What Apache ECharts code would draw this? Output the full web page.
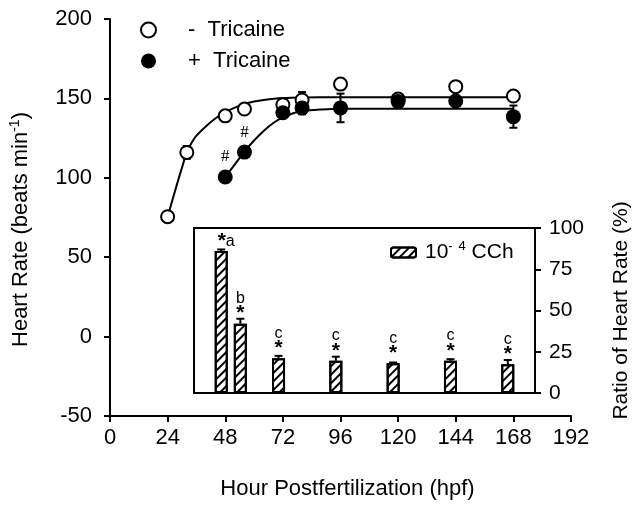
<!DOCTYPE html>
<html>
<head>
<meta charset="utf-8">
<script src="https://cdn.jsdelivr.net/npm/echarts@6/dist/echarts.min.js"></script>
<style>html,body{margin:0;padding:0;background:#fff}#c{width:640px;height:510px}</style>
</head>
<body>
<div id="c"></div>
<script>
// ---- data ----
const xTicks = [0, 24, 48, 72, 96, 120, 144, 168, 192];
const yTicks = [-50, 0, 50, 100, 150, 200];
const ratioTicks = [0, 25, 50, 75, 100];

const minusHours = [24, 32, 48, 56, 72, 80, 96, 120, 144, 168];
const minusTricaine = [75.5, 116, 139, 143.3, 146, 149, 159, 149.6, 157.4, 151.5];
const minusTricaineErr = [0, 4, 0, 0, 0, 5, 0, 2, 3, 0];

const plusHours = [48, 56, 72, 80, 96, 120, 144, 168];
const plusTricaine = [100.5, 116.2, 141, 144, 144, 148, 148.4, 138.5];
const plusTricaineErr = [0, 0, 2, 4, 9, 2, 2, 7];
const plusMarks = ['#', '#', '', '', '', '', '', ''];

const fitMinusHours = [24, 26, 28, 30, 32, 34, 36, 40, 44, 48, 52, 56, 60, 64, 72, 80, 96, 120, 144, 168];
const fitMinus = [75.5, 86, 96.5, 106.5, 116, 122, 126.5, 132.5, 137.5, 141.3, 144.2, 146.5, 148, 149, 150.2, 150.6, 150.7, 150.7, 150.7, 150.7];

const fitPlusHours = [48, 52, 56, 60, 64, 68, 72, 76, 80, 88, 96, 120, 144, 168];
const fitPlus = [100.5, 108.5, 116.5, 123.5, 129.5, 134.5, 138, 140.5, 142, 143, 143.5, 143.5, 143.5, 143.5];

const barHours = [48, 56, 72, 96, 120, 144, 168];
const cchRatio = [86, 42, 21, 19.5, 18, 19.5, 17.5];
const cchErr = [1, 3, 1.5, 2.5, 0.5, 1, 2.5];
const cchLetters = ['a', 'b', 'c', 'c', 'c', 'c', 'c'];

// ---- chart ----
const FONT = 'Liberation Sans, Arial, sans-serif';
const chart = echarts.init(document.getElementById('c'), null, {renderer: 'canvas'});

function errRender(upOnly) {
  return function (params, api) {
    const x = api.value(0), y = api.value(1), e = api.value(2);
    if (!e) return null;
    const top = api.coord([x, y + e]);
    const bot = upOnly ? api.coord([x, y]) : api.coord([x, y - e]);
    const cap = 4;
    const st = {stroke: '#000', lineWidth: 2};
    const ch = [
      {type: 'line', shape: {x1: top[0], y1: top[1], x2: bot[0], y2: bot[1]}, style: st},
      {type: 'line', shape: {x1: top[0] - cap, y1: top[1], x2: top[0] + cap, y2: top[1]}, style: st}
    ];
    if (!upOnly) ch.push({type: 'line', shape: {x1: bot[0] - cap, y1: bot[1], x2: bot[0] + cap, y2: bot[1]}, style: st});
    return {type: 'group', children: ch};
  };
}

const hatch = {
  symbol: 'rect', symbolSize: 1, color: '#000',
  dashArrayX: [1, 0], dashArrayY: [2, 4], rotation: -Math.PI / 4
};

const option = {
  animation: false,
  backgroundColor: '#fff',
  textStyle: {fontFamily: FONT, color: '#000'},
  legend: [
    {
      data: ['-  Tricaine', '+  Tricaine'],
      orient: 'vertical', left: 140, top: 19, padding: 0, z: 10,
      itemWidth: 15, itemHeight: 15, itemGap: 9,
      textStyle: {fontSize: 22, color: '#000', fontFamily: FONT, padding: [0, 0, 0, 27]}
    },
    {
      data: ['cch'],
      left: 390, top: 240, padding: 0, z: 10, itemWidth: 25, itemHeight: 10,
      formatter: function () { return '10{sup|-} {sup|4} CCh'; },
      textStyle: {fontSize: 21, color: '#000', fontFamily: FONT, padding: [0, 0, 0, 4],
        rich: {sup: {fontSize: 13, fontFamily: FONT, padding: [0, 0, 12, 0]}}}
    }
  ],
  grid: [
    {left: 105, right: 69, top: 19, bottom: 94},
    {left: 194, right: 99, top: 228, bottom: 117, show: true, borderColor: '#000', borderWidth: 2, backgroundColor: '#fff', z: 3}
  ],
  xAxis: [
    {
      type: 'value', gridIndex: 0,
      min: xTicks[0], max: xTicks[xTicks.length - 1], interval: xTicks[1] - xTicks[0],
      name: 'Hour Postfertilization (hpf)', nameLocation: 'middle', nameGap: 62,
      nameTextStyle: {fontSize: 22, color: '#000', fontFamily: FONT, padding: [0, 0, 0, 14]},
      axisLine: {onZero: false, lineStyle: {color: '#000', width: 2}},
      axisTick: {inside: false, length: 6, lineStyle: {color: '#000', width: 2}},
      axisLabel: {fontSize: 22, color: '#000', margin: 11, fontFamily: FONT},
      splitLine: {show: false}
    },
    {
      type: 'value', gridIndex: 1, min: 36.6, max: 179.4,
      show: true,
      axisLine: {show: true, onZero: false, lineStyle: {color: '#000', width: 2}},
      axisTick: {show: false}, axisLabel: {show: false}, splitLine: {show: false}
    }
  ],
  yAxis: [
    {
      type: 'value', gridIndex: 0,
      min: yTicks[0], max: yTicks[yTicks.length - 1], interval: yTicks[1] - yTicks[0],
      name: 'Heart Rate (beats min{sup|-1})', nameLocation: 'middle', nameGap: 76,
      nameTextStyle: {fontSize: 22, color: '#000', fontFamily: FONT, padding: [0, 24, 0, 0],
        rich: {sup: {fontSize: 14, fontFamily: FONT, padding: [0, 0, 12, 0]}}},
      axisLine: {show: true, onZero: false, lineStyle: {color: '#000', width: 2}},
      axisTick: {inside: false, length: 6, lineStyle: {color: '#000', width: 2}},
      axisLabel: {fontSize: 22, color: '#000', margin: 18, fontFamily: FONT},
      splitLine: {show: false}
    },
    {
      type: 'value', gridIndex: 1, position: 'right',
      min: ratioTicks[0], max: ratioTicks[ratioTicks.length - 1], interval: ratioTicks[1] - ratioTicks[0],
      name: 'Ratio of Heart Rate (%)', nameLocation: 'middle', nameGap: 76,
      nameTextStyle: {fontSize: 21, color: '#000', fontFamily: FONT},
      axisLine: {show: true, onZero: false, lineStyle: {color: '#000', width: 2}},
      axisTick: {inside: false, length: 6, lineStyle: {color: '#000', width: 2}},
      axisLabel: {fontSize: 21, color: '#000', margin: 14, fontFamily: FONT},
      splitLine: {show: false}
    }
  ],
  series: [
    {
      name: 'fitMinus', type: 'line', xAxisIndex: 0, yAxisIndex: 0, smooth: 0.3,
      data: fitMinusHours.map((h, i) => [h, fitMinus[i]]),
      symbol: 'none', lineStyle: {color: '#000', width: 2}, z: 2
    },
    {
      name: 'fitPlus', type: 'line', xAxisIndex: 0, yAxisIndex: 0, smooth: 0.3,
      data: fitPlusHours.map((h, i) => [h, fitPlus[i]]),
      symbol: 'none', lineStyle: {color: '#000', width: 2}, z: 2
    },
    {
      name: 'errMinus', type: 'custom', xAxisIndex: 0, yAxisIndex: 0,
      renderItem: errRender(false), encode: {x: 0, y: 1},
      data: minusHours.map((h, i) => [h, minusTricaine[i], minusTricaineErr[i]]), z: 3
    },
    {
      name: 'errPlus', type: 'custom', xAxisIndex: 0, yAxisIndex: 0,
      renderItem: errRender(false), encode: {x: 0, y: 1},
      data: plusHours.map((h, i) => [h, plusTricaine[i], plusTricaineErr[i]]), z: 3
    },
    {
      name: '-  Tricaine', type: 'scatter', xAxisIndex: 0, yAxisIndex: 0,
      symbol: 'circle', symbolSize: 13,
      itemStyle: {color: '#fff', borderColor: '#000', borderWidth: 2, opacity: 1},
      data: minusHours.map((h, i) => [h, minusTricaine[i]]), z: 4
    },
    {
      name: '+  Tricaine', type: 'scatter', xAxisIndex: 0, yAxisIndex: 0,
      symbol: 'circle', symbolSize: 15,
      itemStyle: {color: '#000', borderColor: '#000', borderWidth: 0, opacity: 1},
      label: {
        show: true, position: 'top', distance: 4,
        formatter: p => plusMarks[p.dataIndex],
        fontFamily: 'Liberation Serif, serif', fontSize: 17, color: '#000'
      },
      data: plusHours.map((h, i) => [h, plusTricaine[i]]), z: 5
    },
    {
      name: 'cch', type: 'bar', xAxisIndex: 1, yAxisIndex: 1, barWidth: 13,
      itemStyle: {color: '#fff', borderColor: '#000', borderWidth: 2, decal: hatch},
      label: {
        show: true, position: 'top', distance: 2,
        formatter: p => p.dataIndex === 0 ? '{s|*}{l|' + cchLetters[0] + '}' : '{l|' + cchLetters[p.dataIndex] + '}\n{s|*}',
        rich: {
          s: {fontSize: 21, fontWeight: 'bold', fontFamily: FONT, color: '#000', lineHeight: 16},
          l: {fontSize: 16, fontFamily: FONT, color: '#000', lineHeight: 14}
        }
      },
      data: barHours.map((h, i) => ({value: [h, cchRatio[i]], label: i === 0 ? {offset: [5, 0]} : {}})),
      z: 6
    },
    {
      name: 'errCch', type: 'custom', xAxisIndex: 1, yAxisIndex: 1,
      renderItem: errRender(true), encode: {x: 0, y: 1},
      data: barHours.map((h, i) => [h, cchRatio[i], cchErr[i]]), z: 7
    }
  ]
};
chart.setOption(option);
</script>
</body>
</html>
